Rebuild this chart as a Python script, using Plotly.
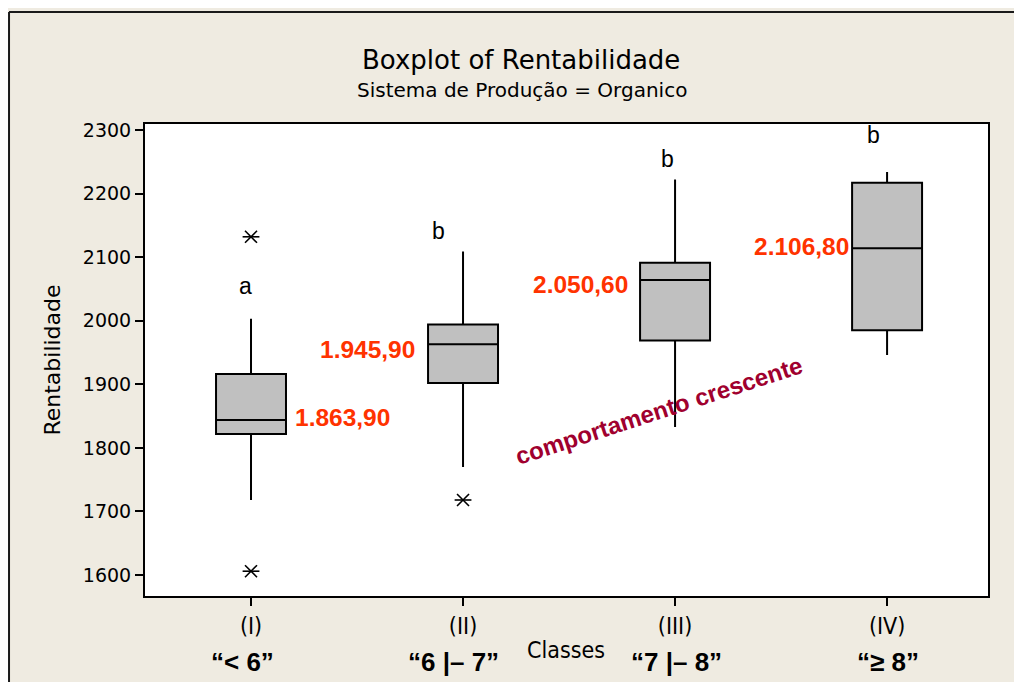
import plotly.graph_objects as go

# ---- data ----
classes = ["(I)", "(II)", "(III)", "(IV)"]
class_ranges = ["\u201c< 6\u201d", "\u201c6 |\u2013 7\u201d", "\u201c7 |\u2013 8\u201d", "\u201c\u2265 8\u201d"]
positions = [1, 2, 3, 4]
q1 = [1822, 1902, 1969, 1985]
median = [1844, 1963, 2064, 2114]
q3 = [1916, 1994, 2091, 2217]
lower_whisker = [1718, 1770, 1833, 1946]
upper_whisker = [2003, 2109, 2222, 2234]
outlier_x = [1, 1, 2]
outlier_y = [2132, 1606, 1718]
mean_labels = ["1.863,90", "1.945,90", "2.050,60", "2.106,80"]
groups = ["a", "b", "b", "b"]
y_ticks = [1600, 1700, 1800, 1900, 2000, 2100, 2200, 2300]

BG = "#EFEBE1"
fig = go.Figure()

for i, p in enumerate(positions):
    fig.add_trace(go.Box(
        x=[p], q1=[q1[i]], median=[median[i]], q3=[q3[i]],
        lowerfence=[lower_whisker[i]], upperfence=[upper_whisker[i]],
        width=0.33, whiskerwidth=0,
        fillcolor="#C0C0C0", line=dict(color="black", width=2),
        boxpoints=False, showlegend=False, hoverinfo="skip"))

for sym in ["x-thin-open", "line-ew-open"]:
    fig.add_trace(go.Scatter(
        x=outlier_x, y=outlier_y, mode="markers",
        marker=dict(symbol=sym, size=12, color="black",
                    line=dict(color="black", width=1.6)),
        showlegend=False, hoverinfo="skip"))

ann = []
# titles
ann.append(dict(x=0.446, y=1.1356, xref="paper", yref="paper", text="Boxplot of Rentabilidade",
                showarrow=False, xanchor="center", yanchor="middle",
                font=dict(family="DejaVu Sans", size=26, color="black")))
ann.append(dict(x=0.447, y=1.072, xref="paper", yref="paper", text="Sistema de Produção = Organico",
                showarrow=False, xanchor="center", yanchor="middle",
                font=dict(family="DejaVu Sans", size=20, color="black")))
# group letters
letter_dx = [-0.024, -0.118, -0.038, -0.066]
letter_y = [2055, 2141, 2254, 2292]
for i, g in enumerate(groups):
    ann.append(dict(x=positions[i] + letter_dx[i], y=letter_y[i], xref="x", yref="y",
                    text=g, showarrow=False, yanchor="middle",
                    font=dict(family="Liberation Sans", size=23, color="black")))
# mean labels
lab_pos = [(positions[0] + 0.2, "left", median[0] + 3),
           (positions[1] - 0.215, "right", median[1] - 8),
           (positions[2] - 0.212, "right", median[2] - 7),
           (positions[3] - 0.17, "right", median[3] + 3)]
for i, (lx, anc, ly) in enumerate(lab_pos):
    ann.append(dict(x=lx, y=ly, xref="x", yref="y", xanchor=anc, yanchor="middle",
                    text="<b>%s</b>" % mean_labels[i], showarrow=False,
                    font=dict(family="Liberation Sans", size=24.5, color="#FF3300")))
# trend text
ann.append(dict(x=2.925, y=1858, xref="x", yref="y", text="<b>comportamento crescente</b>",
                textangle=-18, showarrow=False, yanchor="middle",
                font=dict(family="Liberation Sans", size=24, color="#A0002E")))
# class range labels
range_dx = [-0.042, -0.047, 0.005, 0.005]
for i, t in enumerate(class_ranges):
    ann.append(dict(x=positions[i] + range_dx[i], y=-0.140, xref="x", yref="paper",
                    text="<b>%s</b>" % t, showarrow=False, yanchor="middle",
                    font=dict(family="Liberation Sans Narrow, Liberation Sans", size=26, color="black")))
ann.append(dict(x=2.486, y=-0.114, xref="x", yref="paper", text="Classes", showarrow=False,
                yanchor="middle",
                font=dict(family="DejaVu Sans Condensed, DejaVu Sans", size=23, color="black")))

fig.update_layout(
    width=1014, height=674,
    margin=dict(l=137, r=34, t=116, b=86),
    paper_bgcolor=BG, plot_bgcolor="white",
    annotations=ann,
    xaxis=dict(range=[0.5, 4.476], tickvals=positions, ticktext=classes,
               ticks="outside", ticklen=8, tickcolor="black", tickwidth=1.5,
               showgrid=False, zeroline=False, showline=True, linecolor="black",
               linewidth=2, mirror=True,
               tickfont=dict(family="DejaVu Sans Condensed, DejaVu Sans", size=23, color="black")),
    yaxis=dict(range=[1567, 2309.4], tickvals=y_ticks,
               ticks="outside", ticklen=8, tickcolor="black", tickwidth=1.5,
               showgrid=False, zeroline=False, showline=True, linecolor="black",
               linewidth=2, mirror=True,
               title=dict(text="Rentabilidade", standoff=16,
                          font=dict(family="DejaVu Sans", size=22, color="black")),
               tickfont=dict(family="DejaVu Sans", size=19, color="black")),
    shapes=[
        dict(type="line", xref="paper", yref="paper", x0=-0.1613, x1=-0.1613, y0=-0.19, y1=1.2373,
             line=dict(color="#1a1a1a", width=2)),
        dict(type="line", xref="paper", yref="paper", x0=-0.1613, x1=1.05, y0=1.2373, y1=1.2373,
             line=dict(color="#1a1a1a", width=2)),
    ],
)
fig.write_html("out.html")
